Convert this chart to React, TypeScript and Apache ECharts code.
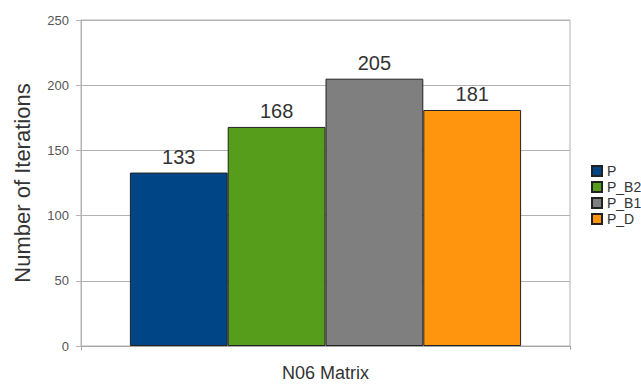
import React, { useEffect, useRef } from "react";
import * as echarts from "echarts";

const categories = ["N06 Matrix"];
const seriesNames = ["P", "P_B2", "P_B1", "P_D"];
const seriesValues = [133, 168, 205, 181];
const seriesColors = ["#004586", "#579d1c", "#7f7f7f", "#ff950e"];
const yTicks = { min: 0, max: 250, interval: 50 };

export default function App() {
  const ref = useRef<HTMLDivElement>(null);
  useEffect(() => {
    document.body.style.margin = "0";
    const chart = echarts.init(ref.current!, null, { renderer: "svg" });
    chart.setOption({
      animation: false,
      backgroundColor: "#ffffff",
      textStyle: { fontFamily: "Liberation Sans, Arial, sans-serif" },
      grid: {
        left: 81,
        right: 71,
        top: 20,
        bottom: 39,
        show: true,
        borderColor: "#b3b3b3",
        borderWidth: 1,
      },
      legend: {
        orient: "vertical",
        left: 586,
        top: 159,
        itemWidth: 10,
        itemHeight: 10,
        itemGap: 2,
        icon: "rect",
        textStyle: { fontSize: 14, color: "#333333" },
        data: seriesNames,
      },
      xAxis: {
        type: "category",
        data: categories,
        axisLine: { lineStyle: { color: "#a6a6a6", width: 1 } },
        axisTick: { show: true, length: 4, lineStyle: { color: "#a6a6a6" } },
        axisLabel: { fontSize: 18, color: "#333333", margin: 18 },
      },
      yAxis: {
        type: "value",
        min: yTicks.min,
        max: yTicks.max,
        interval: yTicks.interval,
        name: "Number of Iterations",
        nameLocation: "middle",
        nameGap: 48,
        nameTextStyle: { fontSize: 22, color: "#333333" },
        axisLine: { show: true, lineStyle: { color: "#b3b3b3" } },
        axisTick: { show: true, length: 5, lineStyle: { color: "#b3b3b3" } },
        axisLabel: { fontSize: 13, color: "#555555", margin: 12 },
        splitLine: { show: true, lineStyle: { color: "#b3b3b3" } },
      },
      series: seriesNames.map((name, i) => ({
        name,
        type: "bar",
        data: [seriesValues[i]],
        barGap: "0%",
        barCategoryGap: "20%",
        itemStyle: {
          color: seriesColors[i],
          borderColor: "#222222",
          borderWidth: 1,
        },
        label: {
          show: true,
          position: "top",
          distance: 6,
          fontSize: 20,
          color: "#333333",
        },
      })),
    });
    return () => chart.dispose();
  }, []);
  return <div ref={ref} style={{ width: 641, height: 385 }} />;
}
